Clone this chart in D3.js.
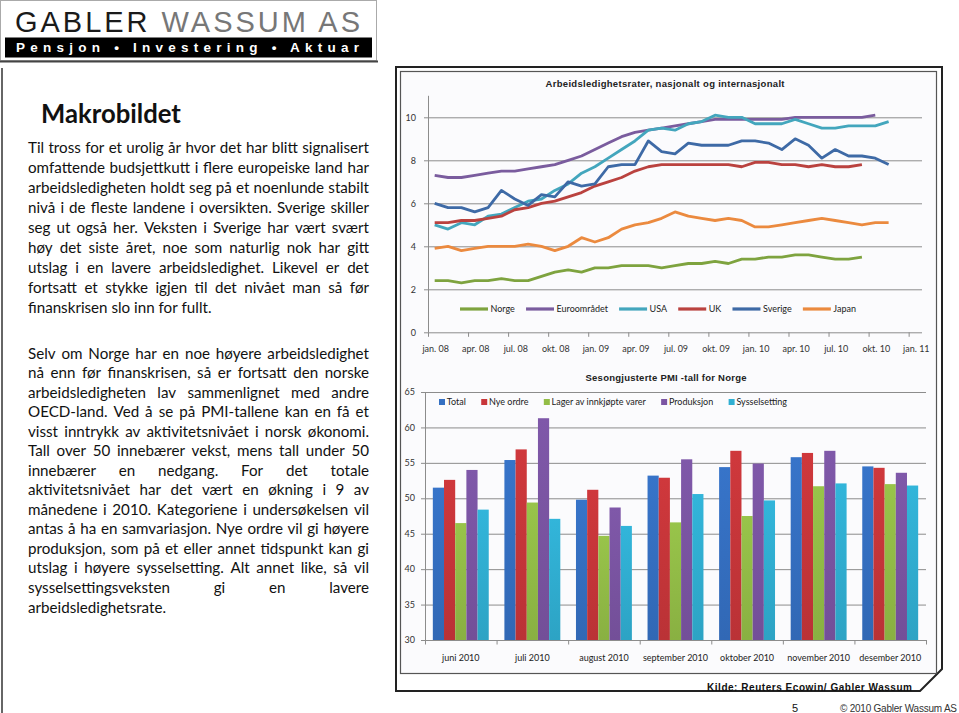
<!DOCTYPE html>
<html><head><meta charset="utf-8">
<script src="https://cdn.jsdelivr.net/npm/d3@7"></script>
<style>
html,body{margin:0;padding:0;background:#fff;}
svg{display:block;}
</style></head><body>
<svg id="c" width="959" height="713"></svg>
<script>
// ---------------- DATA ----------------
const months = ["jan. 08","feb. 08","mar. 08","apr. 08","mai. 08","jun. 08","jul. 08","aug. 08","sep. 08","okt. 08","nov. 08","des. 08",
"jan. 09","feb. 09","mar. 09","apr. 09","mai. 09","jun. 09","jul. 09","aug. 09","sep. 09","okt. 09","nov. 09","des. 09",
"jan. 10","feb. 10","mar. 10","apr. 10","mai. 10","jun. 10","jul. 10","aug. 10","sep. 10","okt. 10","nov. 10","des. 10","jan. 11"];
const monthTickLabels = ["jan. 08","apr. 08","jul. 08","okt. 08","jan. 09","apr. 09","jul. 09","okt. 09","jan. 10","apr. 10","jul. 10","okt. 10","jan. 11"];
const lineSeriesNames = ["Norge","Euroområdet","USA","UK","Sverige","Japan"];
const norge   = [2.4,2.4,2.3,2.4,2.4,2.5,2.4,2.4,2.6,2.8,2.9,2.8,3.0,3.0,3.1,3.1,3.1,3.0,3.1,3.2,3.2,3.3,3.2,3.4,3.4,3.5,3.5,3.6,3.6,3.5,3.4,3.4,3.5];
const euro    = [7.3,7.2,7.2,7.3,7.4,7.5,7.5,7.6,7.7,7.8,8.0,8.2,8.5,8.8,9.1,9.3,9.4,9.5,9.6,9.7,9.8,9.9,9.9,9.9,9.9,9.9,9.9,10.0,10.0,10.0,10.0,10.0,10.0,10.1];
const usa     = [5.0,4.8,5.1,5.0,5.4,5.5,5.8,6.1,6.2,6.6,6.9,7.4,7.7,8.1,8.5,8.9,9.4,9.5,9.4,9.7,9.8,10.1,10.0,10.0,9.7,9.7,9.7,9.9,9.7,9.5,9.5,9.6,9.6,9.6,9.8];
const uk      = [5.1,5.1,5.2,5.2,5.3,5.4,5.7,5.8,6.0,6.1,6.3,6.5,6.8,7.0,7.2,7.5,7.7,7.8,7.8,7.8,7.8,7.8,7.8,7.7,7.9,7.9,7.8,7.8,7.7,7.8,7.7,7.7,7.8];
const sverige = [6.0,5.8,5.8,5.6,5.8,6.6,6.2,5.9,6.4,6.3,7.0,6.8,6.9,7.7,7.8,7.8,8.9,8.4,8.3,8.8,8.7,8.7,8.7,8.9,8.9,8.8,8.5,9.0,8.7,8.1,8.5,8.2,8.2,8.1,7.8];
const japan   = [3.9,4.0,3.8,3.9,4.0,4.0,4.0,4.1,4.0,3.8,4.0,4.4,4.2,4.4,4.8,5.0,5.1,5.3,5.6,5.4,5.3,5.2,5.3,5.2,4.9,4.9,5.0,5.1,5.2,5.3,5.2,5.1,5.0,5.1,5.1];
const lineTicks = [0,2,4,6,8,10];

const barCategories = ["juni 2010","juli 2010","august 2010","september 2010","oktober 2010","november 2010","desember 2010"];
const barSeriesNames = ["Total","Nye ordre","Lager av innkjøpte varer","Produksjon","Sysselsetting"];
const total         = [51.5,55.4,49.8,53.2,54.4,55.8,54.5];
const nyeOrdre      = [52.6,56.9,51.2,52.9,56.7,56.4,54.3];
const lager         = [46.5,49.4,44.7,46.6,47.5,51.7,52.0];
const produksjon    = [54.0,61.3,48.7,55.5,54.9,56.7,53.6];
const sysselsetting = [48.4,47.1,46.1,50.6,49.7,52.1,51.8];
const barTicks = [30,35,40,45,50,55,60,65];

const para1 = [
"Til tross for et urolig år hvor det har blitt signalisert",
"omfattende budsjettkutt i flere europeiske land har",
"arbeidsledigheten holdt seg på et noenlunde stabilt",
"nivå i de fleste landene i oversikten. Sverige skiller",
"seg ut også her. Veksten i Sverige har vært svært",
"høy det siste året, noe som naturlig nok har gitt",
"utslag i en lavere arbeidsledighet. Likevel er det",
"fortsatt et stykke igjen til det nivået man så før",
"finanskrisen slo inn for fullt."];
const para2 = [
"Selv om Norge har en noe høyere arbeidsledighet",
"nå enn før finanskrisen, så er fortsatt den norske",
"arbeidsledigheten lav sammenlignet med andre",
"OECD-land. Ved å se på PMI-tallene kan en få et",
"visst inntrykk av aktivitetsnivået i norsk økonomi.",
"Tall over 50 innebærer vekst, mens tall under 50",
"innebærer en nedgang. For det totale",
"aktivitetsnivået har det vært en økning i 9 av",
"månedene i 2010. Kategoriene i undersøkelsen vil",
"antas å ha en samvariasjon. Nye ordre vil gi høyere",
"produksjon, som på et eller annet tidspunkt kan gi",
"utslag i høyere sysselsetting. Alt annet like, så vil",
"sysselsettingsveksten gi en lavere",
"arbeidsledighetsrate."];

// ---------------- DRAW ----------------
const svg = d3.select("#c");
const BODY = "Lato, 'Open Sans', sans-serif";
const ARIAL = "'Liberation Sans', Arial, sans-serif";

// Logo
const logo = svg.append("g");
logo.append("rect").attr("x",0.5).attr("y",0.5).attr("width",376).attr("height",60)
  .attr("fill","#fff").attr("stroke","#aaa");
logo.append("line").attr("x1",0).attr("x2",378).attr("y1",61.5).attr("y2",61.5).attr("stroke","#444").attr("stroke-width",2);
logo.append("rect").attr("x",5).attr("y",37.5).attr("width",367).attr("height",20).attr("fill","#000");
const lt = logo.append("text").attr("x",15).attr("y",31.5).attr("font-family",ARIAL).attr("font-size",29)
  .attr("textLength",345).attr("lengthAdjust","spacing");
lt.append("tspan").attr("fill","#1a1a1a").text("GABLER ");
lt.append("tspan").attr("fill","#777").text("WASSUM AS");
logo.append("text").attr("x",16).attr("y",52.3).attr("font-family",ARIAL).attr("font-weight","bold")
  .attr("font-size",13.5).attr("fill","#fff").attr("textLength",343).attr("lengthAdjust","spacing")
  .text("Pensjon • Investering • Aktuar");

// Left panel border
svg.append("line").attr("x1",2).attr("x2",2).attr("y1",68).attr("y2",713).attr("stroke","#333").attr("stroke-width",1.5);

// Heading
(function(){
  const t = svg.append("text").attr("x",41).attr("y",123).attr("font-family",BODY).attr("font-weight","bold")
    .attr("font-size",100).attr("fill","#111").text("Makrobildet");
  const w = t.node().getComputedTextLength();
  t.attr("font-size", 100*140/w);
})();

// Paragraphs (justified)
function naturalWidth(str, fs){
  const t = svg.append("text").attr("font-family",BODY).attr("font-size",fs).text(str);
  const w = t.node().getComputedTextLength(); t.remove(); return w;
}
const X0 = 28, X1 = 369;
let fs = 15.5;
[para1, para2].forEach(p => p.slice(0,-1).forEach(l => {
  const w = naturalWidth(l, 100);
  fs = Math.min(fs, 100*(X1-X0)/w*0.995);
}));
function paragraph(lines, yBase, step){
  const g = svg.append("g").attr("font-family",BODY).attr("font-size",fs).attr("fill","#111");
  const spaceW = naturalWidth("x x", fs) - naturalWidth("xx", fs);
  lines.forEach((ln,k) => {
    const words = ln.split(" ");
    const widths = words.map(w => naturalWidth(w, fs));
    const last = k === lines.length-1;
    const gap = last ? spaceW : (X1 - X0 - d3.sum(widths))/(words.length-1);
    let x = X0;
    words.forEach((w,i) => {
      g.append("text").attr("x", x).attr("y", yBase + k*step).text(w);
      x += widths[i] + gap;
    });
  });
}
paragraph(para1, 152.5, 20.1);
paragraph(para2, 358.5, 19.54);

// Chart frames
svg.append("path").attr("d","M396,67 H942 V669 L920,691 H396 Z").attr("fill","none").attr("stroke","#222").attr("stroke-width",2);
svg.append("rect").attr("x",400.5).attr("y",71.5).attr("width",536).attr("height",602)
  .attr("fill","#fbfbfd").attr("stroke","#555").attr("stroke-width",1.2);

// ---- Line chart ----
const xL = d3.scaleBand().domain(months).range([428,922]).padding(0);
const yL = d3.scaleLinear().domain([0,11]).range([332.3, 95.8]);
const gL = svg.append("g");
gL.append("text").attr("x",665).attr("y",86.5).attr("text-anchor","middle").attr("font-family",ARIAL)
  .attr("font-weight","bold").attr("font-size",9.5).attr("fill","#222")
  .attr("textLength",239).attr("lengthAdjust","spacing")
  .text("Arbeidsledighetsrater, nasjonalt og internasjonalt");
gL.selectAll(".grid").data(lineTicks.filter(d=>d>0)).join("line")
  .attr("x1",428).attr("x2",922).attr("y1",d=>yL(d)+0.5).attr("y2",d=>yL(d)+0.5)
  .attr("stroke","#8c8c8c").attr("stroke-width",1);
gL.append("line").attr("x1",428.5).attr("x2",428.5).attr("y1",yL(11)).attr("y2",yL(0)).attr("stroke","#8c8c8c");
gL.append("line").attr("x1",428).attr("x2",922).attr("y1",yL(0)+0.5).attr("y2",yL(0)+0.5).attr("stroke","#8c8c8c");
gL.selectAll(".yt").data(lineTicks).join("line")
  .attr("x1",424).attr("x2",428).attr("y1",d=>yL(d)+0.5).attr("y2",d=>yL(d)+0.5).attr("stroke","#8c8c8c");
gL.selectAll(".yl").data(lineTicks).join("text")
  .attr("x",416).attr("y",d=>yL(d)+3.2).attr("text-anchor","end").attr("font-family",BODY)
  .attr("font-size",9).attr("fill","#333").text(d=>d);
const tickIdx = months.map((m,i)=>i).filter(i=>i%3===0);
gL.selectAll(".xt").data(tickIdx).join("line")
  .attr("x1",i=>xL(months[i])+0.5).attr("x2",i=>xL(months[i])+0.5)
  .attr("y1",yL(0)).attr("y2",yL(0)+4.5).attr("stroke","#8c8c8c");
gL.selectAll(".xl").data(monthTickLabels).join("text")
  .attr("x",d=>xL(d)+xL.bandwidth()/2+1).attr("y",351.5).attr("text-anchor","middle")
  .attr("font-family",BODY).attr("font-size",9).attr("fill","#333").text(d=>d);

const lineColors = ["#7ea33f","#7a5c9e","#43a6bd","#ba423f","#3e6aa6","#eb8a3f"];
const lineData = [norge, euro, usa, uk, sverige, japan];
const lineGen = d3.line().x((d,i)=>xL(months[i])+xL.bandwidth()/2).y(d=>yL(d));
gL.selectAll(".series").data(lineData).join("path")
  .attr("d",lineGen).attr("fill","none").attr("stroke",(d,i)=>lineColors[i])
  .attr("stroke-width",2.8).attr("stroke-linejoin","round");

// line legend
(function(){
  const lg = gL.append("g").attr("font-family",BODY).attr("font-size",9).attr("fill","#222");
  const LL = 28, G = 2.5, start = 460, end = 856;
  const tw = lineSeriesNames.map(n => { const t = lg.append("text").text(n); const w = t.node().getComputedTextLength(); t.remove(); return w; });
  const used = d3.sum(tw) + lineSeriesNames.length*(LL+G);
  const sp = (end - start - used)/(lineSeriesNames.length-1);
  let x = start;
  lineSeriesNames.forEach((n,i)=>{
    lg.append("line").attr("x1",x).attr("x2",x+LL).attr("y1",309).attr("y2",309)
      .attr("stroke",lineColors[i]).attr("stroke-width",3.2);
    lg.append("text").attr("x",x+LL+G).attr("y",312.2).text(n);
    x += LL + G + tw[i] + sp;
  });
})();

// ---- Bar chart ----
const xB = d3.scaleBand().domain(barCategories).range([425,926]).padding(0);
const xS = d3.scaleBand().domain(barSeriesNames).range([0,xB.bandwidth()]).paddingInner(0).paddingOuter(0.7);
const yB = d3.scaleLinear().domain([30,65]).range([640,392]);
const gB = svg.append("g");
gB.append("text").attr("x",666).attr("y",380.5).attr("text-anchor","middle").attr("font-family",ARIAL)
  .attr("font-weight","bold").attr("font-size",9.5).attr("fill","#222")
  .attr("textLength",161).attr("lengthAdjust","spacing")
  .text("Sesongjusterte PMI -tall for Norge");
gB.selectAll(".grid").data(barTicks).join("line")
  .attr("x1",425).attr("x2",926).attr("y1",d=>yB(d)+0.5).attr("y2",d=>yB(d)+0.5)
  .attr("stroke","#8c8c8c");
gB.append("line").attr("x1",425.5).attr("x2",425.5).attr("y1",yB(65)).attr("y2",yB(30)).attr("stroke","#8c8c8c");
gB.selectAll(".yt").data(barTicks).join("line")
  .attr("x1",421).attr("x2",425).attr("y1",d=>yB(d)+0.5).attr("y2",d=>yB(d)+0.5).attr("stroke","#8c8c8c");
gB.selectAll(".yl").data(barTicks).join("text")
  .attr("x",415).attr("y",d=>yB(d)+3.2).attr("text-anchor","end").attr("font-family",BODY)
  .attr("font-size",9).attr("fill","#333").text(d=>d);
gB.selectAll(".xt").data(d3.range(barCategories.length+1)).join("line")
  .attr("x1",i=>425+i*xB.step()+0.5).attr("x2",i=>425+i*xB.step()+0.5)
  .attr("y1",yB(30)).attr("y2",yB(30)+4.5).attr("stroke","#8c8c8c");
gB.selectAll(".xl").data(barCategories).join("text")
  .attr("x",d=>xB(d)+xB.bandwidth()/2).attr("y",661).attr("text-anchor","middle")
  .attr("font-family",BODY).attr("font-size",9).attr("fill","#222").text(d=>d);

const barColors = ["#3570c2","#c8363a","#93bd47","#7b55a3","#30afd2"];
const defs = svg.append("defs");
barColors.forEach((c,i)=>{
  const gr = defs.append("linearGradient").attr("id","bg"+i).attr("x1",0).attr("x2",0).attr("y1",0).attr("y2",1);
  gr.append("stop").attr("offset","0").attr("stop-color",d3.color(c).brighter(0.1));
  gr.append("stop").attr("offset","1").attr("stop-color",d3.color(c).darker(0.2));
});
const barData = [total, nyeOrdre, lager, produksjon, sysselsetting];
barData.forEach((vals,si)=>{
  gB.append("g").selectAll("rect").data(vals).join("rect")
    .attr("x",(d,i)=>xB(barCategories[i])+xS(barSeriesNames[si]))
    .attr("width",xS.bandwidth())
    .attr("y",d=>yB(d)).attr("height",d=>yB(30)-yB(d))
    .attr("fill","url(#bg"+si+")");
});
// bar legend
(function(){
  const lg = gB.append("g").attr("font-family",BODY).attr("font-size",9).attr("fill","#222");
  const SQ = 6, G = 1.8, start = 439, end = 787;
  const tw = barSeriesNames.map(n => { const t = lg.append("text").text(n); const w = t.node().getComputedTextLength(); t.remove(); return w; });
  const used = d3.sum(tw) + barSeriesNames.length*(SQ+G);
  const sp = (end - start - used)/(barSeriesNames.length-1);
  let x = start;
  barSeriesNames.forEach((n,i)=>{
    lg.append("rect").attr("x",x).attr("y",399).attr("width",SQ).attr("height",SQ).attr("fill",barColors[i]);
    lg.append("text").attr("x",x+SQ+G).attr("y",405).text(n);
    x += SQ + G + tw[i] + sp;
  });
})();

// Source + footer
svg.append("text").attr("x",707).attr("y",690.5).attr("font-family",ARIAL).attr("font-weight","bold")
  .attr("font-size",10).attr("fill","#111").attr("textLength",205).attr("lengthAdjust","spacing")
  .text("Kilde: Reuters Ecowin/ Gabler Wassum");
svg.append("text").attr("x",792).attr("y",712).attr("font-family",ARIAL).attr("font-size",11).attr("fill","#111").text("5");
svg.append("text").attr("x",840).attr("y",712).attr("font-family",ARIAL).attr("font-size",10).attr("fill","#333")
  .attr("textLength",117).attr("lengthAdjust","spacing").text("© 2010 Gabler  Wassum AS");
</script>
</body></html>
